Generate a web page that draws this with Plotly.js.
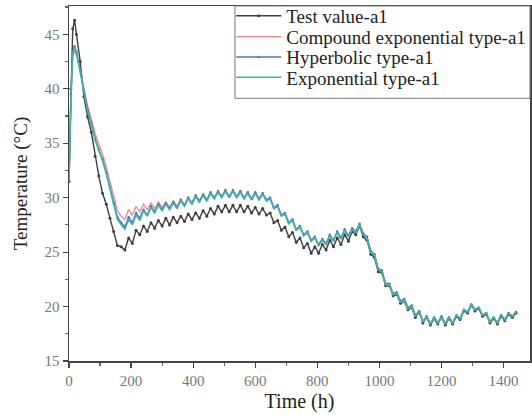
<!DOCTYPE html>
<html>
<head>
<meta charset="utf-8">
<script src="https://cdn.plot.ly/plotly-3.0.1.min.js"></script>
<style>html,body{margin:0;padding:0;background:#fff;}#chart{width:532px;height:415px;}</style>
</head>
<body>
<div id="chart"></div>
<script>
const hours = [
  0, 6, 12, 18, 24,
  36, 48, 60, 72, 84, 96, 108, 120,
  132, 144, 156, 168, 180, 192, 204, 216, 228, 240,
  252, 264, 276, 288, 300, 312, 324, 336, 348, 360,
  372, 384, 396, 408, 420, 432, 444, 456, 468, 480,
  492, 504, 516, 528, 540, 552, 564, 576, 588, 600,
  612, 624, 636, 648, 660, 672, 684, 696, 708, 720,
  732, 744, 756, 768, 780, 792, 804, 816, 828, 840,
  852, 864, 876, 888, 900, 912, 924, 936, 948, 960,
  972, 984, 996, 1008, 1020, 1032, 1044, 1056, 1068, 1080,
  1092, 1104, 1116, 1128, 1140, 1152, 1164, 1176, 1188, 1200,
  1212, 1224, 1236, 1248, 1260, 1272, 1284, 1296, 1308, 1320,
  1332, 1344, 1356, 1368, 1380, 1392, 1404, 1416, 1428, 1440
];

const testValue = [
  31.5, 40.0, 45.5, 46.3, 45.0,
  42.5, 39.3, 37.4, 36.0, 33.8, 32.0, 30.4, 29.4,
  28.1, 26.9, 25.6, 25.5, 25.2, 26.3, 25.8, 27.0, 26.6, 27.4,
  26.9, 27.7, 27.2, 27.9, 27.4, 28.1, 27.5, 28.2, 27.7, 28.3,
  27.8, 28.5, 28.0, 28.6, 28.1, 28.8, 28.3, 29.0, 28.5, 29.2,
  28.7, 29.3, 28.7, 29.3, 28.7, 29.3, 28.7, 29.2, 28.6, 29.1,
  28.5, 29.0, 28.4, 28.6, 27.7, 27.9, 27.0, 27.3, 26.4, 26.8,
  25.9, 26.3, 25.4, 25.8, 24.9, 25.5, 24.9, 25.7, 25.2, 26.1,
  25.5, 26.3, 25.7, 26.6, 26.0, 26.9, 26.6, 27.4, 26.4, 26.1,
  24.8, 24.5, 23.2, 23.1, 21.9, 21.9, 21.0, 21.1, 20.3, 20.5,
  19.7, 19.9, 19.0, 19.5, 18.5, 19.0, 18.3, 18.9, 18.4, 19.0,
  18.3, 18.9, 18.4, 19.1, 18.8, 19.6, 19.4, 20.1, 19.6, 19.8,
  19.1, 19.3, 18.5, 18.9, 18.4, 19.1, 18.7, 19.3, 19.0, 19.4
];

const compoundExp = [
  31.5, 39.0, 42.9, 43.5, 43.1,
  41.7, 40.0, 38.4, 37.2, 35.9, 34.9, 34.0, 32.8,
  31.4, 30.0, 28.8, 28.3, 28.0, 28.9, 28.4, 29.2, 28.7, 29.4,
  28.9, 29.5, 29.0, 29.6, 29.1, 29.6, 29.1, 29.7, 29.2, 29.8,
  29.3, 30.0, 29.5, 30.1, 29.6, 30.3, 29.8, 30.4, 29.9, 30.5,
  30.0, 30.6, 30.0, 30.6, 30.0, 30.5, 29.9, 30.4, 29.8, 30.4,
  29.8, 30.3, 29.7, 29.9, 29.0, 29.2, 28.3, 28.5, 27.6, 27.9,
  27.0, 27.3, 26.5, 26.8, 26.0, 26.3, 25.6, 26.1, 25.7, 26.5,
  26.0, 26.8, 26.2, 27.0, 26.4, 27.1, 26.8, 27.5, 26.6, 26.3,
  25.0, 24.7, 23.4, 23.2, 22.0, 22.0, 21.1, 21.2, 20.4, 20.6,
  19.8, 20.0, 19.1, 19.6, 18.6, 19.1, 18.4, 19.0, 18.5, 19.1,
  18.4, 19.0, 18.5, 19.2, 18.9, 19.7, 19.5, 20.2, 19.7, 19.9,
  19.2, 19.4, 18.6, 19.0, 18.5, 19.2, 18.8, 19.4, 19.1, 19.5
];

const hyperbolic = [
  31.5, 39.5, 43.4, 43.9, 43.4,
  41.7, 39.8, 38.1, 36.8, 35.4, 34.4, 33.5, 32.3,
  30.9, 29.5, 28.2, 27.7, 27.3, 28.2, 27.7, 28.6, 28.1, 28.9,
  28.4, 29.2, 28.7, 29.4, 28.9, 29.5, 29.0, 29.6, 29.1, 29.8,
  29.3, 30.0, 29.5, 30.2, 29.7, 30.3, 29.8, 30.5, 30.0, 30.6,
  30.1, 30.7, 30.1, 30.7, 30.1, 30.6, 30.0, 30.5, 29.9, 30.5,
  29.9, 30.4, 29.8, 30.0, 29.1, 29.3, 28.4, 28.6, 27.7, 28.0,
  27.1, 27.4, 26.6, 26.9, 26.1, 26.4, 25.7, 26.2, 25.8, 26.6,
  26.1, 26.9, 26.3, 27.1, 26.5, 27.2, 26.9, 27.6, 26.7, 26.4,
  25.1, 24.8, 23.5, 23.3, 22.1, 22.1, 21.2, 21.3, 20.5, 20.7,
  19.9, 20.1, 19.2, 19.6, 18.6, 19.1, 18.4, 19.0, 18.5, 19.1,
  18.4, 19.0, 18.5, 19.2, 18.9, 19.7, 19.5, 20.2, 19.7, 19.9,
  19.2, 19.4, 18.6, 19.0, 18.5, 19.2, 18.8, 19.4, 19.1, 19.5
];

const exponential = [
  31.5, 39.0, 43.2, 43.8, 43.3,
  41.6, 39.7, 38.0, 36.7, 35.3, 34.3, 33.4, 32.2,
  30.8, 29.3, 28.0, 27.5, 27.1, 28.0, 27.5, 28.4, 27.9, 28.8,
  28.3, 29.1, 28.6, 29.3, 28.8, 29.4, 28.9, 29.5, 29.0, 29.7,
  29.2, 29.9, 29.4, 30.1, 29.6, 30.2, 29.7, 30.4, 29.9, 30.5,
  30.0, 30.6, 30.0, 30.6, 30.0, 30.5, 29.9, 30.4, 29.8, 30.4,
  29.8, 30.3, 29.7, 29.9, 29.0, 29.2, 28.3, 28.5, 27.6, 27.9,
  27.0, 27.3, 26.5, 26.8, 26.0, 26.3, 25.6, 26.1, 25.7, 26.5,
  26.0, 26.8, 26.2, 27.0, 26.4, 27.1, 26.8, 27.5, 26.6, 26.3,
  25.0, 24.7, 23.4, 23.2, 22.0, 22.0, 21.1, 21.2, 20.4, 20.6,
  19.8, 20.0, 19.1, 19.6, 18.6, 19.1, 18.4, 19.0, 18.5, 19.1,
  18.4, 19.0, 18.5, 19.2, 18.9, 19.7, 19.5, 20.2, 19.7, 19.9,
  19.2, 19.4, 18.6, 19.0, 18.5, 19.2, 18.8, 19.4, 19.1, 19.5
];

const seriesNames = ["Test value-a1", "Compound exponential type-a1", "Hyperbolic type-a1", "Exponential type-a1"];
const xTicks = [0, 200, 400, 600, 800, 1000, 1200, 1400];
const yTicks = [15, 20, 25, 30, 35, 40, 45];

const serif = "Liberation Serif, Times New Roman, serif";

const traces = [
  {x: hours, y: testValue, name: seriesNames[0], type: "scatter", mode: "lines+markers", legend: "legend",
   line: {color: "#3f3f3f", width: 1.4}, marker: {color: "#3f3f3f", size: 3}},
  {x: hours, y: compoundExp, name: seriesNames[1], type: "scatter", mode: "lines", legend: "legend2",
   line: {color: "#e8939b", width: 1.5}},
  {x: hours, y: hyperbolic, name: seriesNames[2], type: "scatter", mode: "lines+markers", legend: "legend3",
   line: {color: "#4f73c4", width: 1.4}, marker: {color: "#4f73c4", size: 2.5}},
  {x: hours, y: exponential, name: seriesNames[3], type: "scatter", mode: "lines", legend: "legend4",
   line: {color: "#3db5a2", width: 1.5}}
];

function legendAt(yPaper) {
  return {x: 0.352, y: yPaper, xanchor: "left", yanchor: "middle",
    bgcolor: "rgba(0,0,0,0)", borderwidth: 0,
    font: {family: serif, size: 19, color: "#222"}, itemwidth: 45};
}

const layout = {
  width: 532, height: 415,
  margin: {l: 69, r: 2, t: 6, b: 54, autoexpand: false},
  paper_bgcolor: "#fff", plot_bgcolor: "#fff",
  showlegend: true,
  legend: legendAt(0.972),
  legend2: legendAt(0.913),
  legend3: legendAt(0.856),
  legend4: legendAt(0.799),
  shapes: [
    {type: "rect", xref: "paper", yref: "paper", x0: 0.36, x1: 1.0, y0: 0.74, y1: 1.0,
     line: {color: "#777", width: 1}, fillcolor: "#fff", layer: "above"}
  ],
  xaxis: {
    range: [0, 1485], tickvals: xTicks, ticktext: xTicks.map(String),
    ticks: "outside", ticklen: 5, tickwidth: 1.2, tickcolor: "#444",
    minor: {dtick: 100, ticks: "outside", ticklen: 3, tickcolor: "#666", showgrid: false},
    showgrid: false, zeroline: false,
    showline: true, linecolor: "#444", linewidth: 1.5, mirror: true,
    tickfont: {family: serif, size: 15, color: "#777"},
    title: {text: "Time (h)", font: {family: serif, size: 20, color: "#222"}, standoff: 6}
  },
  yaxis: {
    range: [15, 47.6], tickvals: yTicks, ticktext: yTicks.map(String),
    ticks: "outside", ticklen: 5, tickwidth: 1.2, tickcolor: "#444",
    minor: {dtick: 2.5, ticks: "outside", ticklen: 3, tickcolor: "#666", showgrid: false},
    showgrid: false, zeroline: false,
    showline: true, linecolor: "#444", linewidth: 1.5, mirror: true,
    tickfont: {family: serif, size: 15, color: "#777"},
    title: {text: "Temperature (°C)", font: {family: serif, size: 19, color: "#222"}, standoff: 12}
  }
};

Plotly.newPlot("chart", traces, layout, {displayModeBar: false, staticPlot: true});
</script>
</body>
</html>
